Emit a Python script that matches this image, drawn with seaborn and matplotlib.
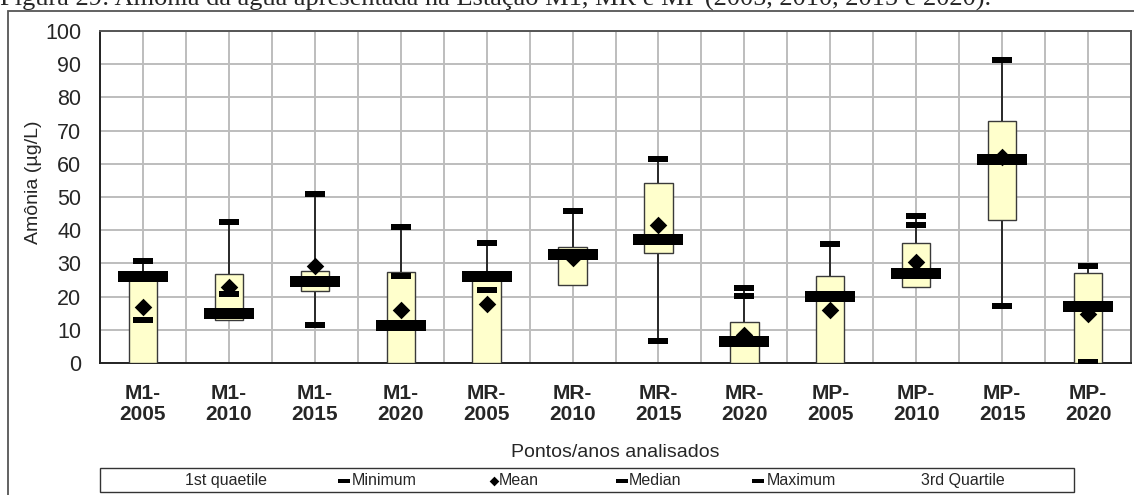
import numpy as np
import pandas as pd
import matplotlib
matplotlib.use("Agg")
import matplotlib.pyplot as plt
import seaborn as sns
from matplotlib.patches import Rectangle
from matplotlib.lines import Line2D
from matplotlib.path import Path

# ---------------- data ----------------
categories = ["M1-\n2005", "M1-\n2010", "M1-\n2015", "M1-\n2020",
              "MR-\n2005", "MR-\n2010", "MR-\n2015", "MR-\n2020",
              "MP-\n2005", "MP-\n2010", "MP-\n2015", "MP-\n2020"]
q1_vals = [0.0, 13.1, 21.7, 0.0, 0.0, 23.5, 33.0, 0.0, 0.0, 22.9, 43.0, 0.0]
q3_vals = [26.5, 26.9, 27.6, 27.4, 26.0, 34.8, 54.3, 12.2, 26.2, 36.2, 72.9, 27.2]
median_vals = [26.1, 15.1, 24.6, 11.4, 26.1, 32.7, 37.2, 6.5, 20.1, 27.2, 61.4, 17.1]
mean_vals = [16.9, 22.9, 29.1, 16.1, 17.9, 31.5, 41.5, 8.3, 16.1, 30.5, 62.1, 14.7]
min_vals = [13.1, 20.7, 11.3, 26.1, 21.9, 32.5, 6.5, 20.1, 19.5, 41.5, 17.1, 0.2]
max_vals = [30.6, 42.4, 50.9, 41.0, 36.2, 45.7, 61.4, 22.7, 35.7, 44.3, 91.3, 29.1]
y_ticks = [0, 10, 20, 30, 40, 50, 60, 70, 80, 90, 100]
legend_labels = ["1st quaetile", "Minimum", "Mean", "Median", "Maximum", "3rd Quartile"]

title_text = ("Figura 29: Amônia da água apresentada na Estação M1, MR e MP "
              "(2005, 2010, 2015 e 2020).")

# ---------------- style ----------------
sns.set_style("white")
plt.rcParams["font.family"] = ["Liberation Sans", "DejaVu Sans"]

W, H = 1134, 495
fig = plt.figure(figsize=(W / 100, H / 100), dpi=100)

def fx(x):
    return x / W

def fy(y):
    return 1 - y / H

ax = fig.add_axes([fx(100), fy(363), fx(1131) - fx(100), fy(31) - fy(363)])

pos = np.arange(len(categories))
df = pd.DataFrame({
    "pos": pos,
    "q1": q1_vals, "q3": q3_vals,
    "median": median_vals, "mean": mean_vals,
    "min": min_vals, "max": max_vals,
})

# whiskers
ax.vlines(df["pos"], np.minimum(df["min"], df["q1"]), df["max"],
          color="black", lw=1.1, zorder=2)
# boxes
ax.bar(df["pos"], df["q3"] - df["q1"], bottom=df["q1"], width=0.33,
       color="#FFFFCC", edgecolor="#3a3a3a", lw=1.0, zorder=3)

med_marker = Path([(-1, -0.22), (1, -0.22), (1, 0.22), (-1, 0.22), (-1, -0.22)],
                  [Path.MOVETO, Path.LINETO, Path.LINETO, Path.LINETO, Path.CLOSEPOLY])
dash_marker = Path([(-1, -0.28), (1, -0.28), (1, 0.28), (-1, 0.28), (-1, -0.28)],
                   [Path.MOVETO, Path.LINETO, Path.LINETO, Path.LINETO, Path.CLOSEPOLY])
dia_marker = Path([(0, 1), (1, 0), (0, -1), (-1, 0), (0, 1)],
                  [Path.MOVETO, Path.LINETO, Path.LINETO, Path.LINETO, Path.CLOSEPOLY])

sns.scatterplot(data=df, x="pos", y="median", marker=med_marker, s=1296,
                color="black", linewidth=0, zorder=5, ax=ax, legend=False)
sns.scatterplot(data=df, x="pos", y="min", marker=dash_marker, s=225,
                color="black", linewidth=0, zorder=6, ax=ax, legend=False)
sns.scatterplot(data=df, x="pos", y="max", marker=dash_marker, s=225,
                color="black", linewidth=0, zorder=6, ax=ax, legend=False)
sns.scatterplot(data=df, x="pos", y="mean", marker=dia_marker, s=160,
                color="black", linewidth=0, zorder=7, ax=ax, legend=False)

# axes
ax.set_xlim(-0.5, len(categories) - 0.5)
ax.set_ylim(0, 100)
ax.set_yticks(y_ticks)
ax.set_yticklabels([str(v) for v in y_ticks], fontsize=15.5)
ax.set_xticks(pos)
ax.set_xticklabels(categories, fontsize=15, fontweight="bold", linespacing=1.15)
ax.set_xticks(np.arange(-0.5, len(categories), 1.0), minor=True)
ax.tick_params(axis="x", which="major", length=0, pad=15)
ax.tick_params(axis="x", which="minor", length=4.5, width=1.2, color="#333333",
               direction="out")
ax.tick_params(axis="y", which="major", length=4.5, width=1.2, color="#333333",
               direction="out", pad=9)
ax.grid(True, which="both", axis="x", color="#bdbdbd", lw=1.4, zorder=0)
ax.grid(True, which="major", axis="y", color="#bdbdbd", lw=1.4, zorder=0)
ax.set_axisbelow(True)
for side in ["left", "bottom"]:
    ax.spines[side].set_color("#222222")
    ax.spines[side].set_linewidth(1.4)
for side in ["top", "right"]:
    ax.spines[side].set_color("#555555")
    ax.spines[side].set_linewidth(1.4)

ax.set_xlabel("Pontos/anos analisados", fontsize=14)
ax.xaxis.set_label_coords(0.5, -0.245)
ax.set_ylabel("Amônia (µg/L)", fontsize=14)
ax.yaxis.set_label_coords(-0.056, 0.545)

# outer chart frame
fig.add_artist(Rectangle((fx(8), fy(H + 10)), 1.2, fy(11) - fy(H + 10),
                         transform=fig.transFigure, fill=False,
                         edgecolor="#555555", lw=1.3))

# title (partially cut at the top like the reference)
fig.text(0.0, fy(6), title_text, family=["Liberation Serif", "DejaVu Serif"],
         fontsize=19, ha="left", va="baseline")

# legend (manual, as in the reference)
fig.add_artist(Rectangle((fx(100), fy(492)), fx(1074) - fx(100), fy(468) - fy(492),
                         transform=fig.transFigure, fill=False,
                         edgecolor="#333333", lw=1.0))
ly = fy(480.5)
text_x = [185, 352, 499, 629, 767, 921]
marker_x = [None, 344, 494, 622, 758, None]
marker_kind = [None, dash_marker, dia_marker, dash_marker, dash_marker, None]
marker_ms = [None, 8, 7, 8, 8, None]
for lab, tx, mx, mk, ms in zip(legend_labels, text_x, marker_x, marker_kind, marker_ms):
    if mx is not None:
        fig.add_artist(Line2D([fx(mx)], [ly], marker=mk, markersize=ms,
                              color="black", markeredgewidth=0, linestyle="none",
                              transform=fig.transFigure))
    fig.text(fx(tx), ly, lab, fontsize=11.5, ha="left", va="center")

fig.savefig("out.png", dpi=100)
